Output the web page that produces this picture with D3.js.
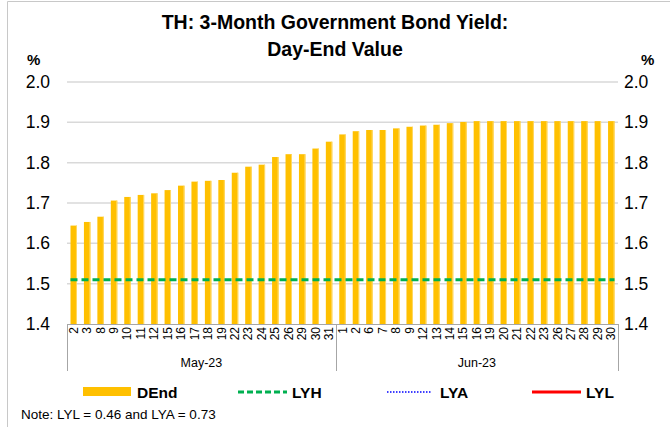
<!DOCTYPE html>
<html>
  <head>
    <style>
      body {
        margin: 0;
        background: #fff;
      }
      text {
        font-family: "Liberation Sans", Arial, sans-serif;
      }
    </style>
  </head>
  <body>
    <svg id="chart"></svg>

    <script src="https://d3js.org/d3.v7.min.js"></script>
    <script>
      let width = 670,
        height = 427;

      // trading days
      let mayDays = ["2", "3", "8", "9", "10", "11", "12", "15", "16", "17", "18", "19", "22", "23", "24", "25", "26", "29", "30", "31"];
      let junDays = ["1", "2", "6", "7", "8", "9", "12", "13", "14", "15", "16", "19", "20", "21", "22", "23", "26", "27", "28", "29", "30"];

      // day-end yield, %
      let mayValues = [1.644, 1.653, 1.666, 1.706, 1.715, 1.72, 1.724, 1.732, 1.743, 1.753, 1.755, 1.757, 1.775, 1.79, 1.795, 1.814, 1.821, 1.821, 1.835, 1.852];
      let junValues = [1.87, 1.878, 1.881, 1.881, 1.885, 1.889, 1.892, 1.894, 1.898, 1.901, 1.903, 1.903, 1.903, 1.903, 1.903, 1.903, 1.903, 1.903, 1.903, 1.903, 1.903];

      let months = ["May-23", "Jun-23"];
      let lyh = 1.51;
      let yTicks = [1.4, 1.5, 1.6, 1.7, 1.8, 1.9, 2.0];

      let data = mayDays
        .map((d, i) => ({ key: "May-" + i, day: d, month: months[0], value: mayValues[i] }))
        .concat(junDays.map((d, i) => ({ key: "Jun-" + i, day: d, month: months[1], value: junValues[i] })));

      let margin = { left: 67, right: 52, top: 82, bottom: 103 };

      let svg = d3.select("#chart").attr("width", width).attr("height", height);

      // outer frame
      svg
        .append("path")
        .attr("d", "M7.5," + height + "V1.5H" + width)
        .attr("fill", "none")
        .attr("stroke", "#c8c8c8")
        .attr("stroke-width", 1);

      let x = d3
        .scaleBand()
        .domain(data.map((d) => d.key))
        .range([margin.left, width - margin.right])
        .paddingInner(0.52)
        .paddingOuter(0.26);

      let y = d3
        .scaleLinear()
        .domain([1.4, 2.0])
        .range([height - margin.bottom, margin.top]);

      // title
      svg
        .append("g")
        .selectAll("text")
        .data(["TH: 3-Month Government Bond Yield:", "Day-End Value"])
        .enter()
        .append("text")
        .attr("x", 335)
        .attr("y", (d, i) => 29 + i * 27)
        .attr("text-anchor", "middle")
        .attr("font-size", 19.5)
        .attr("font-weight", "bold")
        .attr("fill", "#000")
        .text((d) => d);

      // gridlines
      svg
        .append("g")
        .attr("id", "grid")
        .selectAll("line")
        .data(yTicks.slice(1))
        .enter()
        .append("line")
        .attr("x1", margin.left)
        .attr("x2", width - margin.right)
        .attr("y1", (d) => y(d))
        .attr("y2", (d) => y(d))
        .attr("stroke", "#d9d9d9")
        .attr("stroke-width", 1.5);

      // y axes, both sides
      let yLeft = svg
        .append("g")
        .attr("transform", "translate(" + (margin.left - 14) + ",0)")
        .call(d3.axisLeft(y).tickValues(yTicks).tickFormat(d3.format(".1f")).tickSize(0));
      let yRight = svg
        .append("g")
        .attr("transform", "translate(" + (width - margin.right + 3) + ",0)")
        .call(d3.axisRight(y).tickValues(yTicks).tickFormat(d3.format(".1f")).tickSize(0));
      [yLeft, yRight].forEach((g) => {
        g.select(".domain").remove();
        g.selectAll("text").attr("font-size", 17.5).attr("fill", "#000").attr("font-family", "Liberation Sans, Arial, sans-serif");
      });

      svg.append("text").attr("x", 27).attr("y", 65).attr("font-size", 15).attr("font-weight", "bold").text("%");
      svg.append("text").attr("x", 641).attr("y", 65).attr("font-size", 15).attr("font-weight", "bold").text("%");

      // bars
      let bars = svg
        .append("g")
        .attr("id", "bars")
        .selectAll("g")
        .data(data)
        .enter()
        .append("g");
      bars
        .append("rect")
        .attr("x", (d) => x(d.key))
        .attr("y", (d) => y(d.value))
        .attr("width", x.bandwidth())
        .attr("height", (d) => y(1.4) - y(d.value))
        .attr("fill", "#FFC000");
      bars
        .append("rect")
        .attr("x", (d) => x(d.key) + x.bandwidth() - 1)
        .attr("y", (d) => y(d.value))
        .attr("width", 1)
        .attr("height", (d) => y(1.4) - y(d.value))
        .attr("fill", "#FFD966");

      // LYH line
      svg
        .append("line")
        .attr("x1", x(data[0].key))
        .attr("x2", x(data[data.length - 1].key) + x.bandwidth())
        .attr("y1", y(lyh))
        .attr("y2", y(lyh))
        .attr("stroke", "#00B050")
        .attr("stroke-width", 3)
        .attr("stroke-dasharray", "7,4");

      // x axis
      let base = y(1.4);
      svg
        .append("line")
        .attr("x1", margin.left)
        .attr("x2", width - margin.right)
        .attr("y1", base + 0.5)
        .attr("y2", base + 0.5)
        .attr("stroke", "#a6a6a6")
        .attr("stroke-width", 1);

      svg
        .append("g")
        .attr("id", "days")
        .selectAll("text")
        .data(data)
        .enter()
        .append("text")
        .attr("transform", (d) => "translate(" + (x(d.key) + x.bandwidth() / 2 + 4) + "," + (base + 3) + ") rotate(-90)")
        .attr("text-anchor", "end")
        .attr("font-size", 12)
        .attr("fill", "#000")
        .text((d) => d.day);

      let firstJun = x(data[mayDays.length].key) - (x.step() * x.paddingInner()) / 2;
      let seps = [margin.left, firstJun, width - margin.right];
      svg
        .append("g")
        .selectAll("line")
        .data(seps)
        .enter()
        .append("line")
        .attr("x1", (d) => Math.round(d) + 0.5)
        .attr("x2", (d) => Math.round(d) + 0.5)
        .attr("y1", base)
        .attr("y2", base + 47)
        .attr("stroke", "#a6a6a6")
        .attr("stroke-width", 1);

      svg
        .append("g")
        .selectAll("text")
        .data(months)
        .enter()
        .append("text")
        .attr("x", (d, i) => (seps[i] + seps[i + 1]) / 2)
        .attr("y", base + 43)
        .attr("text-anchor", "middle")
        .attr("font-size", 12.5)
        .attr("fill", "#000")
        .text((d) => d);

      // legend
      let legend = svg.append("g").attr("id", "legend");
      let ly = 391;
      legend.append("rect").attr("x", 83).attr("y", ly - 4).attr("width", 48).attr("height", 9).attr("fill", "#FFC000");
      legend.append("line").attr("x1", 238).attr("x2", 287).attr("y1", ly + 1).attr("y2", ly + 1)
        .attr("stroke", "#00B050").attr("stroke-width", 3).attr("stroke-dasharray", "6,3");
      legend.append("line").attr("x1", 387).attr("x2", 431).attr("y1", ly + 1).attr("y2", ly + 1)
        .attr("stroke", "#0000FF").attr("stroke-width", 1.5).attr("stroke-dasharray", "1.5,1.5");
      legend.append("line").attr("x1", 532).attr("x2", 581).attr("y1", ly + 1).attr("y2", ly + 1)
        .attr("stroke", "#FF0000").attr("stroke-width", 3);
      legend
        .selectAll("text")
        .data([
          { t: "DEnd", x: 137 },
          { t: "LYH", x: 292 },
          { t: "LYA", x: 440 },
          { t: "LYL", x: 586 },
        ])
        .enter()
        .append("text")
        .attr("x", (d) => d.x)
        .attr("y", ly + 7)
        .attr("font-size", 15.5)
        .attr("font-weight", "bold")
        .attr("fill", "#000")
        .text((d) => d.t);

      svg
        .append("text")
        .attr("x", 21)
        .attr("y", 419)
        .attr("font-size", 13.5)
        .attr("fill", "#000")
        .text("Note: LYL = 0.46 and LYA = 0.73");
    </script>
  </body>
</html>
